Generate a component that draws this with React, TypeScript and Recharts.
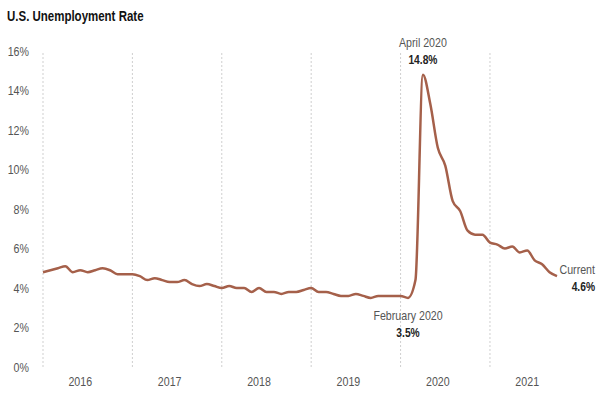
import { LineChart, Line, XAxis, YAxis, ReferenceLine, LabelList } from "recharts";

const FONT = "'Liberation Sans', Arial, sans-serif";
const NARROW = 0.82; // squeeze Arial metrics down to a narrow face

// monthly, Jan 2016 .. Oct 2021
const years = ["2016", "2017", "2018", "2019", "2020", "2021"];
const rates2016 = [4.8, 4.9, 5.0, 5.1, 4.8, 4.9, 4.8, 4.9, 5.0, 4.9, 4.7, 4.7];
const rates2017 = [4.7, 4.6, 4.4, 4.5, 4.4, 4.3, 4.3, 4.4, 4.2, 4.1, 4.2, 4.1];
const rates2018 = [4.0, 4.1, 4.0, 4.0, 3.8, 4.0, 3.8, 3.8, 3.7, 3.8, 3.8, 3.9];
const rates2019 = [4.0, 3.8, 3.8, 3.7, 3.6, 3.6, 3.7, 3.6, 3.5, 3.6, 3.6, 3.6];
const rates2020 = [3.6, 3.5, 4.4, 14.8, 13.3, 11.1, 10.2, 8.4, 7.9, 6.9, 6.7, 6.7];
const rates2021 = [6.3, 6.2, 6.0, 6.1, 5.8, 5.9, 5.4, 5.2, 4.8, 4.6];

const yTicks = [0, 2, 4, 6, 8, 10, 12, 14, 16];
const yearStarts = years.map((y) => `${y}-01`);
const yearLabelTicks = years.map((y) => `${y}-06`);

const annotations = [
  { month: "2020-04", title: "April 2020", value: "14.8%", pos: "above" },
  { month: "2020-02", title: "February 2020", value: "3.5%", pos: "below" },
  { month: "2021-10", title: "Current", value: "4.6%", pos: "right" },
];

const allRates = [rates2016, rates2017, rates2018, rates2019, rates2020, rates2021];
const data = allRates.flatMap((arr, yi) =>
  arr.map((rate, m) => ({
    month: `${years[yi]}-${String(m + 1).padStart(2, "0")}`,
    rate,
  }))
);

const LINE = "#a5604a";

function NarrowText({ x, y, anchor, dy, size, weight, fill, children }: any) {
  return (
    <g transform={`translate(${x},${y})`}>
      <text
        transform={`scale(${NARROW},1)`}
        textAnchor={anchor}
        dy={dy}
        fontSize={size}
        fontWeight={weight}
        fill={fill}
        fontFamily={FONT}
      >
        {children}
      </text>
    </g>
  );
}

function XTick(props: any) {
  const { x, y, payload } = props;
  return (
    <NarrowText x={x} y={y} anchor="middle" dy="0.71em" size={13} fill="#555">
      {String(payload.value).slice(0, 4)}
    </NarrowText>
  );
}

function YTick(props: any) {
  const { x, y, payload } = props;
  return (
    <NarrowText x={x} y={y} anchor="end" dy="0.35em" size={13} fill="#555">
      {`${payload.value}%`}
    </NarrowText>
  );
}

function renderAnnotation(props: any) {
  const { x, y, index } = props;
  const row = data[index];
  if (!row) return null;
  const a = annotations.find((n) => n.month === row.month);
  if (!a) return null;
  let tx = x;
  let t1 = y;
  let t2 = y;
  let anchor = "middle";
  if (a.pos === "above") {
    t1 = y - 32;
    t2 = y - 15;
  } else if (a.pos === "below") {
    t1 = y + 18;
    t2 = y + 35;
  } else {
    tx = x + 38;
    t1 = y - 7;
    t2 = y + 10;
    anchor = "end";
  }
  return (
    <g key={`ann-${index}`}>
      <NarrowText x={tx} y={t1} anchor={anchor} dy="0.35em" size={13} fill="#555">
        {a.title}
      </NarrowText>
      <NarrowText x={tx} y={t2} anchor={anchor} dy="0.35em" size={12.5} weight="bold" fill="#222">
        {a.value}
      </NarrowText>
    </g>
  );
}

export default function App() {
  return (
    <div style={{ position: "absolute", left: 0, top: 0, width: 599, height: 399, background: "#fff", fontFamily: FONT }}>
      <div
        style={{
          position: "absolute",
          left: 7,
          top: 8,
          fontSize: 14,
          fontWeight: "bold",
          color: "#111",
          lineHeight: "17px",
          whiteSpace: "nowrap",
          transform: `scaleX(${NARROW})`,
          transformOrigin: "left top",
        }}
      >
        U.S. Unemployment Rate
      </div>
      <LineChart width={599} height={399} data={data} margin={{ top: 51, right: 42, left: 0, bottom: 0 }}>
        {yearStarts.map((m) => (
          <ReferenceLine key={m} x={m} stroke="#cfcfcf" strokeDasharray="2 2" strokeWidth={1} />
        ))}
        <XAxis
          dataKey="month"
          ticks={yearLabelTicks}
          interval={0}
          axisLine={false}
          tickLine={false}
          tickSize={0}
          tickMargin={10}
          height={32}
          tick={<XTick />}
        />
        <YAxis
          domain={[0, 16]}
          ticks={yTicks}
          axisLine={false}
          tickLine={false}
          tickSize={0}
          tickMargin={14}
          width={43}
          tick={<YTick />}
        />
        <Line
          type="monotone"
          dataKey="rate"
          stroke={LINE}
          strokeWidth={2.5}
          dot={false}
          isAnimationActive={false}
        >
          <LabelList dataKey="rate" content={renderAnnotation} />
        </Line>
      </LineChart>
    </div>
  );
}
